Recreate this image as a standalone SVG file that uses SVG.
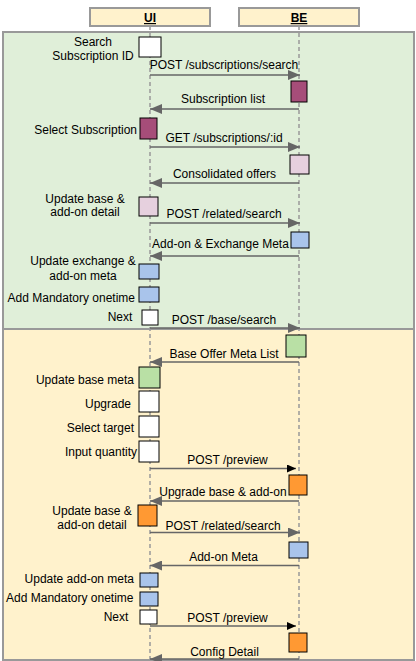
<svg xmlns="http://www.w3.org/2000/svg" width="416" height="661" viewBox="0 0 416 661">
<style>
text{font-family:"Liberation Sans",Arial,sans-serif;font-size:12px;fill:#000}
.c{text-anchor:middle}
.e{text-anchor:end}
.region{stroke:#999;stroke-width:2}
.life{stroke:#999;stroke-width:1.5;stroke-dasharray:4 3;fill:none}
.act{stroke:#000;stroke-width:1}
.msg{stroke:#666;stroke-width:1.5;fill:none}
.hdr{fill:#FFF2CC;stroke:#999;stroke-width:2}
</style>
<defs>
<marker id="arr" markerUnits="userSpaceOnUse" markerWidth="12" markerHeight="10" refX="12" refY="5" orient="auto">
<path d="M0,0 L12,5 L0,10 z" fill="#666"/>
</marker>
<marker id="arrb" markerUnits="userSpaceOnUse" markerWidth="9" markerHeight="8" refX="9" refY="4" orient="auto">
<path d="M0,0 L9,4 L0,8 z" fill="#000"/>
</marker>
</defs>
<g id="regions">
<rect class="region" x="3" y="32" width="411" height="297" fill="#E0EFD9"/>
<rect class="region" x="3" y="329" width="411" height="331" fill="#FFF2CC"/>
</g>
<g id="lifelines">
<line class="life" x1="150" y1="26" x2="150" y2="660"/>
<line class="life" x1="299" y1="26" x2="299" y2="660"/>
</g>
<g id="UI">
<rect class="hdr" x="90" y="8" width="120" height="18"/>
<text class="c" x="150" y="22" font-weight="bold" text-decoration="underline">UI</text>
</g>
<g id="BE">
<rect class="hdr" x="239" y="8" width="120" height="18"/>
<text class="c" x="299" y="22" font-weight="bold" text-decoration="underline">BE</text>
</g>
<g id="connectors">
<line class="msg" x1="150" y1="75" x2="300" y2="75" marker-end="url(#arr)"/>
<text class="c" x="224" y="69">POST /subscriptions/search</text>
<line class="msg" x1="299" y1="109" x2="150" y2="109" marker-end="url(#arr)"/>
<text class="c" x="223" y="103">Subscription list</text>
<line class="msg" x1="150" y1="147" x2="300" y2="147" marker-end="url(#arr)"/>
<text class="c" x="224" y="142">GET /subscriptions/:id</text>
<line class="msg" x1="299" y1="183" x2="150" y2="183" marker-end="url(#arr)"/>
<text class="c" x="224.5" y="178">Consolidated offers</text>
<line class="msg" x1="150" y1="223" x2="300" y2="223" marker-end="url(#arr)"/>
<text class="c" x="224" y="218">POST /related/search</text>
<line class="msg" x1="299" y1="256" x2="150" y2="256" marker-end="url(#arr)"/>
<text class="c" x="220.5" y="248">Add-on &amp; Exchange Meta</text>
<line class="msg" x1="150" y1="328" x2="300" y2="328" marker-end="url(#arr)"/>
<text class="c" x="224" y="324">POST /base/search</text>
<line class="msg" x1="299" y1="362" x2="150" y2="362" marker-end="url(#arr)"/>
<text class="c" x="224" y="358">Base Offer Meta List</text>
<line class="msg" x1="150" y1="468.5" x2="296" y2="468.5" marker-end="url(#arrb)"/>
<text class="c" x="227.5" y="464">POST /preview</text>
<line class="msg" x1="299" y1="501" x2="150" y2="501" marker-end="url(#arr)"/>
<text class="c" x="223" y="496">Upgrade base &amp; add-on</text>
<line class="msg" x1="150" y1="532.5" x2="300" y2="532.5" marker-end="url(#arr)"/>
<text class="c" x="223" y="530">POST /related/search</text>
<line class="msg" x1="299" y1="565.5" x2="150" y2="565.5" marker-end="url(#arr)"/>
<text class="c" x="223.5" y="561">Add-on Meta</text>
<line class="msg" x1="150" y1="626" x2="296" y2="626" marker-end="url(#arrb)"/>
<text class="c" x="227.5" y="621.5">POST /preview</text>
<line class="msg" x1="299" y1="659" x2="150" y2="659" marker-end="url(#arr)"/>
<text class="c" x="224.5" y="656">Config Detail</text>
</g>
<g id="act-search">
<rect class="act" x="139" y="37" width="22" height="20" fill="#FFFFFF"/>
<text class="c" x="93" y="46">Search</text>
<text class="c" x="93" y="59.5">Subscription ID</text>
</g>
<g id="act-be-sublist">
<rect class="act" x="291" y="81" width="16" height="21" fill="#A64D79"/>
</g>
<g id="act-select-sub">
<rect class="act" x="140" y="118" width="17" height="21" fill="#A64D79"/>
<text class="e" x="137" y="133.5">Select Subscription</text>
</g>
<g id="act-be-consolidated">
<rect class="act" x="290" y="155" width="19" height="19" fill="#E6D0DE"/>
</g>
<g id="act-update-base1">
<rect class="act" x="139" y="197" width="19" height="19" fill="#E6D0DE"/>
<text class="c" x="85" y="202.5">Update base &amp;</text>
<text class="c" x="85" y="216">add-on detail</text>
</g>
<g id="act-be-related1">
<rect class="act" x="291" y="232" width="18" height="16" fill="#A9C4EB"/>
</g>
<g id="act-update-exchange">
<rect class="act" x="139" y="264" width="20" height="15" fill="#A9C4EB"/>
<text class="c" x="83" y="265">Update exchange &amp;</text>
<text class="c" x="83" y="279.5">add-on meta</text>
</g>
<g id="act-mandatory1">
<rect class="act" x="139" y="287" width="20" height="15" fill="#A9C4EB"/>
<text class="e" x="135" y="302">Add Mandatory onetime</text>
</g>
<g id="act-next1">
<rect class="act" x="142" y="310" width="16" height="15" fill="#FFFFFF"/>
<text class="c" x="120" y="321">Next</text>
</g>
<g id="act-be-base">
<rect class="act" x="286" y="335" width="20" height="22" fill="#B9E0A5"/>
</g>
<g id="act-update-base-meta">
<rect class="act" x="139" y="367" width="21" height="21" fill="#B9E0A5"/>
<text class="e" x="134" y="384">Update base meta</text>
</g>
<g id="act-upgrade">
<rect class="act" x="139" y="391" width="20" height="21" fill="#FFFFFF"/>
<text class="e" x="131" y="408">Upgrade</text>
</g>
<g id="act-select-target">
<rect class="act" x="139" y="416" width="20" height="21" fill="#FFFFFF"/>
<text class="e" x="134" y="432">Select target</text>
</g>
<g id="act-input-qty">
<rect class="act" x="139" y="441" width="20" height="21" fill="#FFFFFF"/>
<text class="e" x="137" y="456">Input quantity</text>
</g>
<g id="act-be-preview1">
<rect class="act" x="289" y="475" width="18" height="20" fill="#FF9933"/>
</g>
<g id="act-update-base2">
<rect class="act" x="138" y="505" width="19" height="21" fill="#FF9933"/>
<text class="c" x="92" y="515">Update base &amp;</text>
<text class="c" x="92" y="528.5">add-on detail</text>
</g>
<g id="act-be-related2">
<rect class="act" x="289" y="542" width="19" height="16" fill="#A9C4EB"/>
</g>
<g id="act-update-addon">
<rect class="act" x="140" y="573" width="18" height="14" fill="#A9C4EB"/>
<text class="e" x="134" y="583">Update add-on meta</text>
</g>
<g id="act-mandatory2">
<rect class="act" x="140" y="592" width="18" height="14" fill="#A9C4EB"/>
<text class="e" x="133.5" y="601.5">Add Mandatory onetime</text>
</g>
<g id="act-next2">
<rect class="act" x="140" y="610" width="17" height="14" fill="#FFFFFF"/>
<text class="c" x="116" y="621">Next</text>
</g>
<g id="act-be-preview2">
<rect class="act" x="289" y="633" width="18" height="19" fill="#FF9933"/>
</g>
</svg>
